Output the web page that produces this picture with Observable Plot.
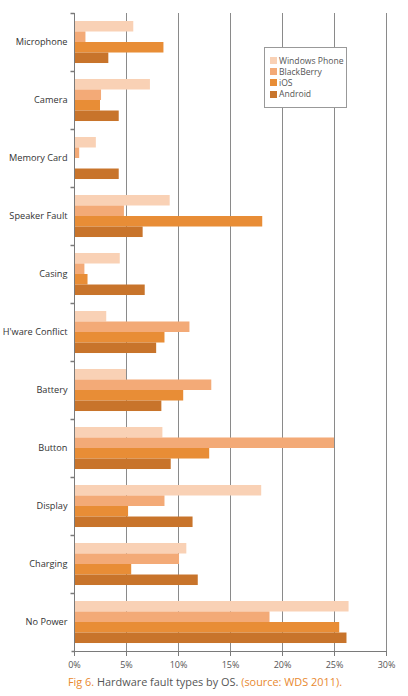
<!DOCTYPE html>
<html><head><meta charset="utf-8">
<script src="https://cdn.jsdelivr.net/npm/d3@7"></script>
<script src="https://cdn.jsdelivr.net/npm/@observablehq/plot@0.6"></script>
<style>
body{margin:0;background:#fff;font-family:"Open Sans",sans-serif;}
#wrap{position:relative;width:408px;}
#legend{position:absolute;left:264px;top:47px;width:83px;height:61px;background:#fff;border:1px solid #999;box-sizing:border-box;padding:7px 0 0 5px;font-size:8.6px;color:#555;}
#legend .row{display:flex;align-items:center;height:11.2px;}
#legend .sw{width:7px;height:7px;margin-right:2px;}
#caption{padding-left:68px;height:20px;line-height:20px;font-size:10.9px;color:#555;}
#caption .o{color:#e8892f;}
</style></head><body>
<div id="wrap"><div id="chart"></div><div id="legend"></div></div>
<div id="caption"><span class="o">Fig 6.</span> Hardware fault types by OS. <span class="o">(source: WDS 2011).</span></div>
<script>
const categories = ["Microphone","Camera","Memory Card","Speaker Fault","Casing","H'ware Conflict","Battery","Button","Display","Charging","No Power"];
const series = ["Windows Phone","BlackBerry","iOS","Android"];
const windowsPhone = [5.7, 7.3, 2.1, 9.2, 4.4, 3.1, 5.0, 8.5, 18.0, 10.8, 26.4];
const blackBerry   = [1.1, 2.6, 0.5, 4.8, 1.0, 11.1, 13.2, 25.0, 8.7, 10.1, 18.8];
const iOS          = [8.6, 2.5, 0.0, 18.1, 1.3, 8.7, 10.5, 13.0, 5.2, 5.5, 25.5];
const android      = [3.3, 4.3, 4.3, 6.6, 6.8, 7.9, 8.4, 9.3, 11.4, 11.9, 26.2];
const xTicks = [0,5,10,15,20,25,30];
const colors = ["#f9d1b5","#f3aa77","#e88d36","#c8742b"];

const valuesBySeries = [windowsPhone, blackBerry, iOS, android];
const data = [];
categories.forEach((c,i)=>series.forEach((s,j)=>data.push({category:c, os:s, value:valuesBySeries[j][i]})));

const leftTick = {draw(ctx, size){ const r = Math.sqrt(size/Math.PI); ctx.moveTo(-r,0); ctx.lineTo(0,0); }};

const chart = Plot.plot({
  width: 408, height: 672,
  marginLeft: 74, marginRight: 22, marginTop: 13, marginBottom: 21,
  style: {fontFamily: "'Open Sans', sans-serif", background: "#fff"},
  x: {domain: [0,30], axis: null, label: null},
  y: {domain: series, paddingInner: 0, paddingOuter: 0.76, round: false, axis: null, label: null},
  fy: {domain: categories, padding: 0, round: false, axis: null, label: null},
  color: {domain: series, range: colors},
  marks: [
    Plot.ruleX(xTicks, {stroke: "#8a8a8a", strokeWidth: 1, strokeOpacity: 1}),
    Plot.barX(data, {x: "value", y: "os", fy: "category", fill: "os"}),
    Plot.ruleX([0], {stroke: "#7a7a7a"}),
    Plot.dot(categories, {fy: d=>d, x: 0, frameAnchor: "top", symbol: leftTick, r: 4, stroke: "#7a7a7a", fill: "none"}),
    Plot.dot(categories.slice(-1), {fy: d=>d, x: 0, frameAnchor: "bottom", symbol: leftTick, r: 3, stroke: "#7a7a7a", fill: "none"}),
    Plot.frame({anchor: "bottom", stroke: "#7a7a7a", facetAnchor: "bottom"}),
    Plot.axisX(xTicks, {anchor: "bottom", label: null, tickSize: 5, tickPadding: 5, tickFormat: d=>d+"%", fontSize: 9, stroke: "#7a7a7a", fill: "#555", facetAnchor: "bottom"}),
    Plot.axisFy({anchor: "left", label: null, tickSize: 0, tickPadding: 7, fontSize: 9.2, fill: "#333"})
  ]
});
document.getElementById("chart").appendChild(chart);

const lg = document.getElementById("legend");
series.forEach((s,i)=>{
  const row = document.createElement("div"); row.className="row";
  const sw = document.createElement("div"); sw.className="sw"; sw.style.background=colors[i];
  const t = document.createElement("span"); t.textContent = s;
  row.appendChild(sw); row.appendChild(t); lg.appendChild(row);
});
</script></body></html>
